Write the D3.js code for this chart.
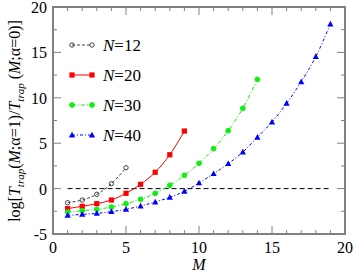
<!DOCTYPE html>
<html><head><meta charset="utf-8">
<script src="https://cdn.jsdelivr.net/npm/d3@7"></script>
<style>body{margin:0;background:#fff}svg{display:block}</style>
</head><body><svg id="c" width="355" height="277"></svg>
<script>
const M12 = [1,2,3,4,5];
const V12 = [-1.55,-1.26,-0.63,0.54,2.3];
const M20 = [1,2,3,4,5,6,7,8,9];
const V20 = [-2.2,-1.95,-1.66,-1.26,-0.52,0.47,1.8,3.73,6.34];
const M30 = [1,2,3,4,5,6,7,8,9,10,11,12,13,14];
const V30 = [-2.58,-2.43,-2.28,-2.03,-1.66,-1.18,-0.52,0.36,1.46,2.78,4.4,6.38,8.84,12.03];
const M40 = [1,2,3,4,5,6,7,8,9,10,11,12,13,14,15,16,17,18,19];
const V40 = [-2.95,-2.84,-2.73,-2.54,-2.28,-1.92,-1.48,-0.96,-0.3,0.62,1.64,2.74,4.03,5.65,7.33,9.39,11.77,14.53,18.13];
const xTicks = [0,5,10,15,20];
const yTicks = [-5,0,5,10,15,20];
const labels = ["12","20","30","40"];

const svg = d3.select("#c");
const x = d3.scaleLinear().domain([0,20]).range([53,345]);
const y = d3.scaleLinear().domain([-5,20]).range([234,7]);
const font = "Liberation Serif, Times New Roman, serif";
const axCol = "#808080";

const g = svg.append("g");
const minorX = d3.range(0,21,1), minorY = d3.range(-5,20.1,2.5);
minorX.forEach(v=>{
  const L = xTicks.includes(v)?8:4;
  g.append("line").attr("x1",x(v)).attr("x2",x(v)).attr("y1",y(-5)).attr("y2",y(-5)-L).attr("stroke",axCol);
  g.append("line").attr("x1",x(v)).attr("x2",x(v)).attr("y1",y(20)).attr("y2",y(20)+L).attr("stroke",axCol);
});
minorY.forEach(v=>{
  const L = yTicks.includes(v)?8:4;
  g.append("line").attr("y1",y(v)).attr("y2",y(v)).attr("x1",x(0)).attr("x2",x(0)+L).attr("stroke",axCol);
  g.append("line").attr("y1",y(v)).attr("y2",y(v)).attr("x1",x(20)).attr("x2",x(20)-L).attr("stroke",axCol);
});
svg.append("rect").attr("x",x(0)).attr("y",y(20)).attr("width",x(20)-x(0)).attr("height",y(-5)-y(20))
  .attr("fill","none").attr("stroke",axCol).attr("stroke-width",2);

xTicks.forEach(v=>svg.append("text").attr("x",x(v)).attr("y",253).attr("text-anchor","middle")
  .attr("font-family",font).attr("font-size",16).text(v));
yTicks.forEach(v=>svg.append("text").attr("x",47).attr("y",y(v)+6).attr("text-anchor","end")
  .attr("font-family",font).attr("font-size",16).text(v));

svg.append("text").attr("x",x(10)).attr("y",270).attr("text-anchor","middle").attr("font-family",font)
  .attr("font-size",16).attr("font-style","italic").text("M");

const yl = svg.append("text").attr("transform","translate(20,121) rotate(-90)").attr("text-anchor","middle")
  .attr("font-family",font).attr("font-size",16);
yl.append("tspan").text("log[");
yl.append("tspan").attr("font-style","italic").text("T");
yl.append("tspan").attr("font-style","italic").attr("font-size",11).attr("dy",4).text("trap");
yl.append("tspan").attr("dy",-4).text("(");
yl.append("tspan").attr("font-style","italic").text("M");
yl.append("tspan").text(";α=1)/");
yl.append("tspan").attr("font-style","italic").text("T");
yl.append("tspan").attr("font-style","italic").attr("font-size",11).attr("dy",4).text("trap");
yl.append("tspan").attr("dy",-4).text(" (");
yl.append("tspan").attr("font-style","italic").text("M");
yl.append("tspan").text(";α=0)]");

svg.append("line").attr("x1",x(1)).attr("x2",x(19)).attr("y1",y(0)).attr("y2",y(0))
  .attr("stroke","#000").attr("stroke-dasharray","5,3").attr("stroke-width",1);

const series = [
  {m:M12,v:V12,col:"#444444",dash:"3,2",sym:"circle",fill:"none"},
  {m:M20,v:V20,col:"#ff0000",dash:null,sym:"square",fill:"#ff0000"},
  {m:M30,v:V30,col:"#11ee11",dash:"4,2,1,2",sym:"circle",fill:"#11ee11"},
  {m:M40,v:V40,col:"#0000ff",dash:"3,2,1,2",sym:"triangle",fill:"#0000ff"}
];
const line = d3.line().x(d=>x(d[0])).y(d=>y(d[1])).curve(d3.curveCatmullRom);
function marker(sel,s,cx,cy){
  if(s.sym==="circle") sel.append("circle").attr("cx",cx).attr("cy",cy).attr("r",s.fill==="none"?2.2:2.4)
      .attr("fill",s.fill).attr("stroke",s.col).attr("stroke-width",1);
  else if(s.sym==="square") sel.append("rect").attr("x",cx-2.6).attr("y",cy-2.6).attr("width",5.2).attr("height",5.2).attr("fill",s.fill);
  else sel.append("path").attr("d",`M${cx},${cy-3.3}L${cx+3.1},${cy+2.4}L${cx-3.1},${cy+2.4}Z`).attr("fill",s.fill);
}
series.forEach(s=>{
  const data = s.m.map((m,i)=>[m,s.v[i]]);
  svg.append("path").attr("d",line(data)).attr("fill","none").attr("stroke",s.col).attr("stroke-width",1)
    .attr("stroke-dasharray",s.dash);
  data.forEach(d=>marker(svg,s,x(d[0]),y(d[1])));
});

const ly = [45,75,105,135];
series.forEach((s,i)=>{
  svg.append("line").attr("x1",72).attr("x2",92).attr("y1",ly[i]).attr("y2",ly[i]).attr("stroke",s.col)
    .attr("stroke-dasharray",s.dash);
  marker(svg,s,72,ly[i]); marker(svg,s,92,ly[i]);
  const t = svg.append("text").attr("x",103).attr("y",ly[i]+6).attr("font-family",font).attr("font-size",17);
  t.append("tspan").attr("font-style","italic").text("N");
  t.append("tspan").text("="+labels[i]);
});
</script></body></html>
